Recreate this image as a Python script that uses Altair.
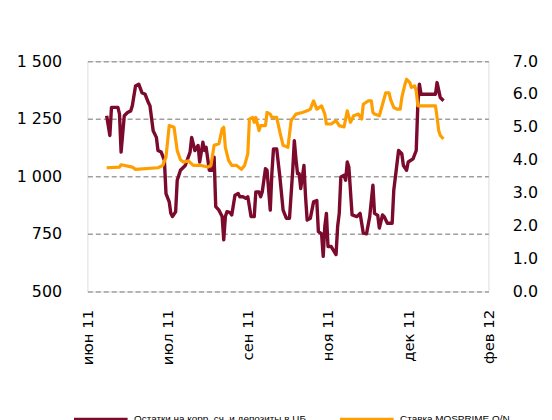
import altair as alt
import pandas as pd

# --- data ---
dates_reserves = [
    "2011-06-18", "2011-06-20", "2011-06-21", "2011-06-25", "2011-06-26", "2011-06-27", "2011-06-29",
    "2011-07-01", "2011-07-03", "2011-07-04", "2011-07-06", "2011-07-08", "2011-07-10", "2011-07-12",
    "2011-07-14", "2011-07-15", "2011-07-17", "2011-07-19", "2011-07-20", "2011-07-22", "2011-07-24",
    "2011-07-25", "2011-07-27", "2011-07-28", "2011-07-29", "2011-07-31", "2011-08-01", "2011-08-03",
    "2011-08-06", "2011-08-09", "2011-08-10", "2011-08-12", "2011-08-14", "2011-08-15", "2011-08-17",
    "2011-08-18", "2011-08-19", "2011-08-21", "2011-08-23", "2011-08-24", "2011-08-25", "2011-08-27",
    "2011-08-29", "2011-08-30", "2011-08-31", "2011-09-01", "2011-09-03", "2011-09-04", "2011-09-06",
    "2011-09-08", "2011-09-09", "2011-09-11", "2011-09-13", "2011-09-14", "2011-09-16", "2011-09-18",
    "2011-09-19", "2011-09-21", "2011-09-22", "2011-09-23", "2011-09-25", "2011-09-26", "2011-09-28",
    "2011-09-29", "2011-09-30", "2011-10-02", "2011-10-04", "2011-10-06", "2011-10-08", "2011-10-10",
    "2011-10-12", "2011-10-13", "2011-10-14", "2011-10-15", "2011-10-16", "2011-10-17", "2011-10-19",
    "2011-10-20", "2011-10-21", "2011-10-23", "2011-10-25", "2011-10-27", "2011-10-28", "2011-10-30",
    "2011-10-31", "2011-11-01", "2011-11-02", "2011-11-03", "2011-11-05", "2011-11-08", "2011-11-09",
    "2011-11-10", "2011-11-11", "2011-11-13", "2011-11-14", "2011-11-15", "2011-11-16", "2011-11-18",
    "2011-11-21", "2011-11-23", "2011-11-25", "2011-11-27", "2011-11-29", "2011-12-01", "2011-12-02",
    "2011-12-04", "2011-12-05", "2011-12-07", "2011-12-08", "2011-12-10", "2011-12-13", "2011-12-14",
    "2011-12-15", "2011-12-17", "2011-12-19", "2011-12-20", "2011-12-22", "2011-12-23", "2011-12-26",
    "2011-12-28", "2011-12-29", "2011-12-30", "2011-12-31", "2012-01-09", "2012-01-10", "2012-01-12",
    "2012-01-14",
]
reserves = [
    1263, 1177, 1299, 1299, 1271, 1105, 1263,
    1277, 1284, 1306, 1392, 1400, 1363, 1356,
    1320, 1306, 1198, 1169, 1112, 1105, 1069,
    925, 889, 839, 825, 846, 983, 1026,
    1047, 1105, 1169, 1112, 1134, 1062, 1148,
    1112, 1126, 1026, 1026, 1083, 868, 853,
    825, 724, 825, 846, 842, 832, 918,
    925, 911, 911, 904, 911, 825, 825,
    932, 932, 911, 932, 1033, 1026, 853,
    1012, 1119, 1119, 997, 853, 818, 818,
    1026, 1155, 1076, 1012, 1012, 947, 1047,
    911, 810, 818, 889, 895, 760, 750,
    652, 782, 839, 695, 695, 660, 782,
    839, 997, 1004, 983, 1062, 1040, 832,
    825, 839, 753, 750, 825, 961, 839,
    830, 775, 832, 825, 796, 796, 940,
    997, 1112, 1098, 1047, 1026, 1062, 1076,
    1112, 1313, 1400, 1356, 1356, 1407, 1342,
    1328,
]

dates_rate = [
    "2011-06-18", "2011-06-26", "2011-06-27", "2011-07-04", "2011-07-06", "2011-07-20", "2011-07-23",
    "2011-07-25", "2011-07-27", "2011-07-30", "2011-08-01", "2011-08-03", "2011-08-05", "2011-08-08",
    "2011-08-11", "2011-08-16", "2011-08-20", "2011-08-22", "2011-08-24", "2011-08-27", "2011-08-29",
    "2011-08-30", "2011-08-31", "2011-09-02", "2011-09-04", "2011-09-07", "2011-09-10", "2011-09-12",
    "2011-09-14", "2011-09-15", "2011-09-17", "2011-09-18", "2011-09-19", "2011-09-21", "2011-09-22",
    "2011-09-25", "2011-09-26", "2011-09-28", "2011-09-29", "2011-10-02", "2011-10-04", "2011-10-06",
    "2011-10-09", "2011-10-11", "2011-10-14", "2011-10-18", "2011-10-21", "2011-10-23", "2011-10-25",
    "2011-10-27", "2011-10-30", "2011-11-01", "2011-11-02", "2011-11-05", "2011-11-08", "2011-11-10",
    "2011-11-13", "2011-11-15", "2011-11-17", "2011-11-19", "2011-11-22", "2011-11-24", "2011-11-25",
    "2011-11-28", "2011-11-30", "2011-12-01", "2011-12-02", "2011-12-05", "2011-12-07", "2011-12-09",
    "2011-12-11", "2011-12-12", "2011-12-14", "2011-12-16", "2011-12-18", "2011-12-19", "2011-12-21",
    "2011-12-22", "2011-12-24", "2011-12-25", "2011-12-27", "2011-12-28", "2011-12-29", "2012-01-09",
    "2012-01-10", "2012-01-11", "2012-01-12", "2012-01-14",
]
rate = [
    3.76, 3.78, 3.85, 3.78, 3.71, 3.76, 3.83,
    4.08, 5.04, 4.99, 4.28, 4.00, 3.93, 3.97,
    3.83, 3.83, 3.78, 3.83, 4.44, 4.49, 4.94,
    4.99, 4.38, 3.98, 3.83, 3.83, 3.71, 3.83,
    4.18, 5.24, 5.29, 5.14, 5.29, 4.89, 5.04,
    5.04, 5.44, 5.39, 5.29, 5.29, 4.84, 4.44,
    4.38, 5.19, 5.39, 5.44, 5.49, 5.54, 5.79,
    5.54, 5.64, 5.39, 5.09, 5.09, 5.19, 5.04,
    5.00, 5.49, 5.14, 5.34, 5.39, 5.24, 5.69,
    5.79, 5.79, 5.44, 5.39, 5.34, 5.69, 6.04,
    6.04, 5.84, 5.59, 5.54, 5.54, 5.89, 6.30,
    6.45, 6.35, 6.20, 6.25, 6.10, 5.64, 5.64,
    5.29, 4.89, 4.74, 4.64,
]

x_ticks = ["2011-06-06", "2011-07-26", "2011-09-14", "2011-11-03", "2011-12-23", "2012-02-11"]
month_names = ["янв", "фев", "мар", "апр", "май", "июн", "июл", "авг", "сен", "окт", "ноя", "дек"]
left_ticks = [500, 750, 1000, 1250, 1500]
right_ticks = [0, 1, 2, 3, 4, 5, 6, 7]
series_names = ["Остатки на корр. сч. и депозиты в ЦБ", "Ставка MOSPRIME O/N"]
series_colors = ["#7b0a2d", "#ff9e00"]


def dt(s):
    y, m, d = (int(v) for v in s.split("-"))
    return alt.DateTime(year=y, month=m, date=d, utc=True)


df_res = pd.DataFrame({"date": dates_reserves, "value": reserves, "series": series_names[0]})
df_rate = pd.DataFrame({"date": dates_rate, "value": rate, "series": series_names[1]})

month_js = "[" + ",".join("'" + m + "'" for m in month_names) + "]"

x_enc = alt.X(
    "date:T",
    scale=alt.Scale(type="utc", domain=[dt(x_ticks[0]), dt(x_ticks[-1])]),
    axis=alt.Axis(
        values=[dt(t) for t in x_ticks],
        labelExpr=month_js + "[utcmonth(datum.value)] + ' ' + utcFormat(datum.value, '%y')",
        labelAngle=-90,
        labelPadding=18,
        labelFont="DejaVu Sans",
        labelFontSize=15,
        labelColor="#000000",
        grid=False,
        domain=False,
        ticks=False,
        title=None,
    ),
)

color_enc = alt.Color(
    "series:N",
    scale=alt.Scale(domain=series_names, range=series_colors),
    legend=alt.Legend(
        orient="none",
        legendX=-15,
        legendY=332,
        direction="horizontal",
        title=None,
        symbolType="stroke",
        symbolSize=2916,
        symbolStrokeWidth=3,
        labelFont="Liberation Sans",
        labelFontSize=10,
        labelColor="#000000",
        labelOffset=5,
        columnPadding=27,
        gridAlign="all",
        labelLimit=400,
    ),
)

left = alt.Chart(df_res).mark_line(strokeWidth=3.4, strokeJoin="round").encode(
    x=x_enc,
    y=alt.Y(
        "value:Q",
        scale=alt.Scale(domain=[500, 1500], nice=False, zero=False),
        axis=alt.Axis(
            values=left_ticks,
            labelExpr="replace(format(datum.value, ','), ',', ' ')",
            grid=True,
            gridDash=[5, 3],
            gridColor="#a0a0a0",
            gridWidth=1.5,
            domain=False,
            ticks=False,
            labelPadding=26,
            labelFont="DejaVu Sans",
            labelFontSize=16,
            labelColor="#000000",
            title=None,
        ),
    ),
    color=color_enc,
)

right = alt.Chart(df_rate).mark_line(strokeWidth=3.2, strokeJoin="round").encode(
    x=x_enc,
    y=alt.Y(
        "value:Q",
        scale=alt.Scale(domain=[0, 7], nice=False),
        axis=alt.Axis(
            orient="right",
            values=right_ticks,
            format=".1f",
            grid=False,
            domain=False,
            ticks=False,
            labelPadding=24,
            labelFont="DejaVu Sans",
            labelFontSize=16,
            labelColor="#000000",
            title=None,
        ),
    ),
    color=color_enc,
)

chart = (
    alt.layer(left, right)
    .resolve_scale(y="independent")
    .properties(
        width=404,
        height=232,
        padding={"left": 80, "top": 52, "right": 56, "bottom": 128},
        autosize=alt.AutoSizeParams(type="none"),
    )
    .configure_view(stroke=None)
    .configure(background="white")
)

chart.save("out.html", embed_options={"renderer": "svg", "actions": False})
